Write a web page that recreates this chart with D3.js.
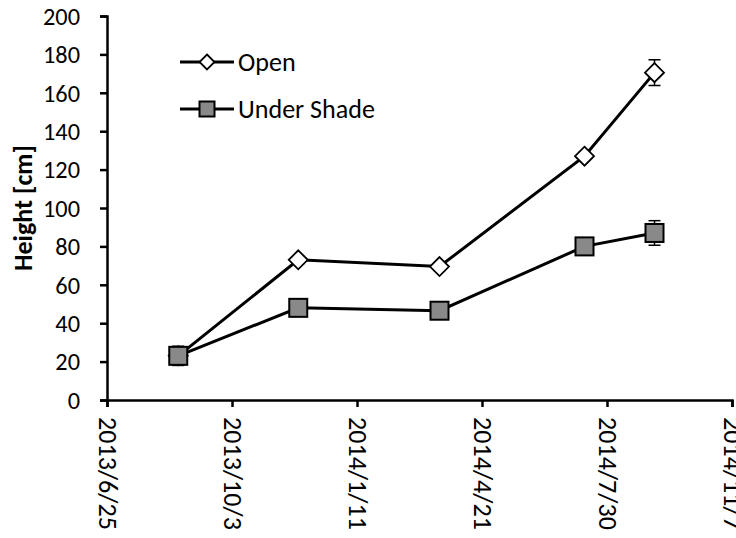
<!DOCTYPE html>
<html>
<head>
<meta charset="utf-8">
<script src="https://cdn.jsdelivr.net/npm/d3@7"></script>
<style>
  html, body { margin: 0; padding: 0; background: #fff; }
  svg { display: block; }
  text { font-family: "Carlito", "Calibri", "Liberation Sans", "Noto Sans", sans-serif; fill: #000; }
</style>
</head>
<body>
<svg id="chart" width="736" height="538"></svg>
<script>
// Sampling dates and measured plant heights (cm) with error values
const sampleDates = ["2013-08-21", "2013-11-25", "2014-03-18", "2014-07-12", "2014-09-06"];
const openHeight = [23, 73, 69.5, 127, 170.5];
const openError = [2, 2, 2, 2, 6.7];
const shadeHeight = [23, 48, 46.5, 80, 87];
const shadeError = [5, 2, 2, 2, 6.4];
const seriesNames = ["Open", "Under Shade"];
const xTickDates = ["2013-06-25", "2013-10-03", "2014-01-11", "2014-04-21", "2014-07-30", "2014-11-07"];
const yTicks = [0, 20, 40, 60, 80, 100, 120, 140, 160, 180, 200];

const parse = d3.timeParse("%Y-%m-%d");
const fmt = d3.timeFormat("%Y/%-m/%-d");

const svg = d3.select("#chart");
const plotLeft = 107, plotRight = 732, plotTop = 16, plotBottom = 400;

// Font size that makes a sample string occupy a given width in the current font
function sizeFor(sample, width, weight) {
  const t = svg.append("text").attr("font-size", 100).attr("font-weight", weight || "normal").text(sample);
  const w = t.node().getComputedTextLength();
  t.remove();
  return 100 * width / w;
}
const tickFont = sizeFor("120", 37);
const dateFont = sizeFor("2013/6/25", 113);
const titleFont = sizeFor("Height [cm]", 126, "bold");
const legendFont = sizeFor("Under Shade", 137);

const x = d3.scaleTime()
  .domain([parse(xTickDates[0]), parse(xTickDates[xTickDates.length - 1])])
  .range([plotLeft, plotRight]);
const y = d3.scaleLinear().domain([0, 200]).range([plotBottom, plotTop]);

// Y axis
const yAxis = svg.append("g")
  .attr("transform", `translate(${plotLeft},0)`)
  .call(d3.axisLeft(y).tickValues(yTicks).tickSize(7).tickPadding(20));
yAxis.select(".domain").attr("stroke", "#000").attr("stroke-width", 2.5);
yAxis.selectAll(".tick line").attr("stroke", "#000").attr("stroke-width", 2.5);
yAxis.selectAll(".tick text").attr("font-size", tickFont).attr("font-family", null)
  .attr("fill", "#000").attr("dy", "0.34em");

// X axis with vertical date labels
const xAxis = svg.append("g")
  .attr("transform", `translate(0,${plotBottom})`)
  .call(d3.axisBottom(x).tickValues(xTickDates.map(parse)).tickFormat(fmt).tickSize(7));
xAxis.select(".domain").attr("stroke", "#000").attr("stroke-width", 2.5);
xAxis.selectAll(".tick line").attr("stroke", "#000").attr("stroke-width", 2.5);
xAxis.selectAll(".tick text")
  .attr("font-size", dateFont).attr("font-family", null).attr("fill", "#000")
  .attr("text-anchor", "start")
  .attr("transform", "translate(0,17) rotate(90)")
  .attr("x", 0).attr("y", 0).attr("dy", "0.33em");

// Y axis title
svg.append("text")
  .attr("transform", `translate(32,${(plotTop + plotBottom) / 2}) rotate(-90)`)
  .attr("text-anchor", "middle")
  .attr("font-size", titleFont)
  .attr("font-weight", "bold")
  .text("Height [cm]");

const line = d3.line().x(d => x(d.date)).y(d => y(d.v));

function series(values, errors) {
  return sampleDates.map((d, i) => ({ date: parse(d), v: values[i], e: errors[i] }));
}
const openData = series(openHeight, openError);
const shadeData = series(shadeHeight, shadeError);

function drawErrors(data) {
  const g = svg.append("g").attr("stroke", "#000").attr("stroke-width", 1.5);
  data.forEach(d => {
    const cx = x(d.date);
    g.append("line").attr("x1", cx).attr("x2", cx).attr("y1", y(d.v + d.e)).attr("y2", y(d.v - d.e));
    g.append("line").attr("x1", cx - 6).attr("x2", cx + 6).attr("y1", y(d.v + d.e)).attr("y2", y(d.v + d.e));
    g.append("line").attr("x1", cx - 6).attr("x2", cx + 6).attr("y1", y(d.v - d.e)).attr("y2", y(d.v - d.e));
  });
}

function diamond(g, cx, cy, r) {
  g.append("path")
    .attr("d", `M${cx},${cy - r}L${cx + r},${cy}L${cx},${cy + r}L${cx - r},${cy}Z`)
    .attr("fill", "#fff").attr("stroke", "#000").attr("stroke-width", 1.8);
}
function square(g, cx, cy, r) {
  g.append("rect")
    .attr("x", cx - r).attr("y", cy - r).attr("width", 2 * r).attr("height", 2 * r)
    .attr("fill", "#898989").attr("stroke", "#000").attr("stroke-width", 2);
}

// Open series first, then the shaded series on top
drawErrors(openData);
svg.append("path").datum(openData).attr("d", line)
  .attr("fill", "none").attr("stroke", "#000").attr("stroke-width", 3);
const markO = svg.append("g");
openData.forEach(d => diamond(markO, x(d.date), y(d.v), 9.5));

drawErrors(shadeData);
svg.append("path").datum(shadeData).attr("d", line)
  .attr("fill", "none").attr("stroke", "#000").attr("stroke-width", 3);
const markS = svg.append("g");
shadeData.forEach(d => square(markS, x(d.date), y(d.v), 9));

// Legend
const legend = svg.append("g");
const legendRows = [
  { name: seriesNames[0], cy: 62, mark: diamond, r: 7.5 },
  { name: seriesNames[1], cy: 109, mark: square, r: 7.5 }
];
legendRows.forEach(row => {
  legend.append("line").attr("x1", 180).attr("x2", 234).attr("y1", row.cy).attr("y2", row.cy)
    .attr("stroke", "#000").attr("stroke-width", 3);
  row.mark(legend, 207, row.cy, row.r);
  legend.append("text").attr("x", 238).attr("y", row.cy).attr("dy", "0.34em")
    .attr("font-size", legendFont).text(row.name);
});
</script>
</body>
</html>
